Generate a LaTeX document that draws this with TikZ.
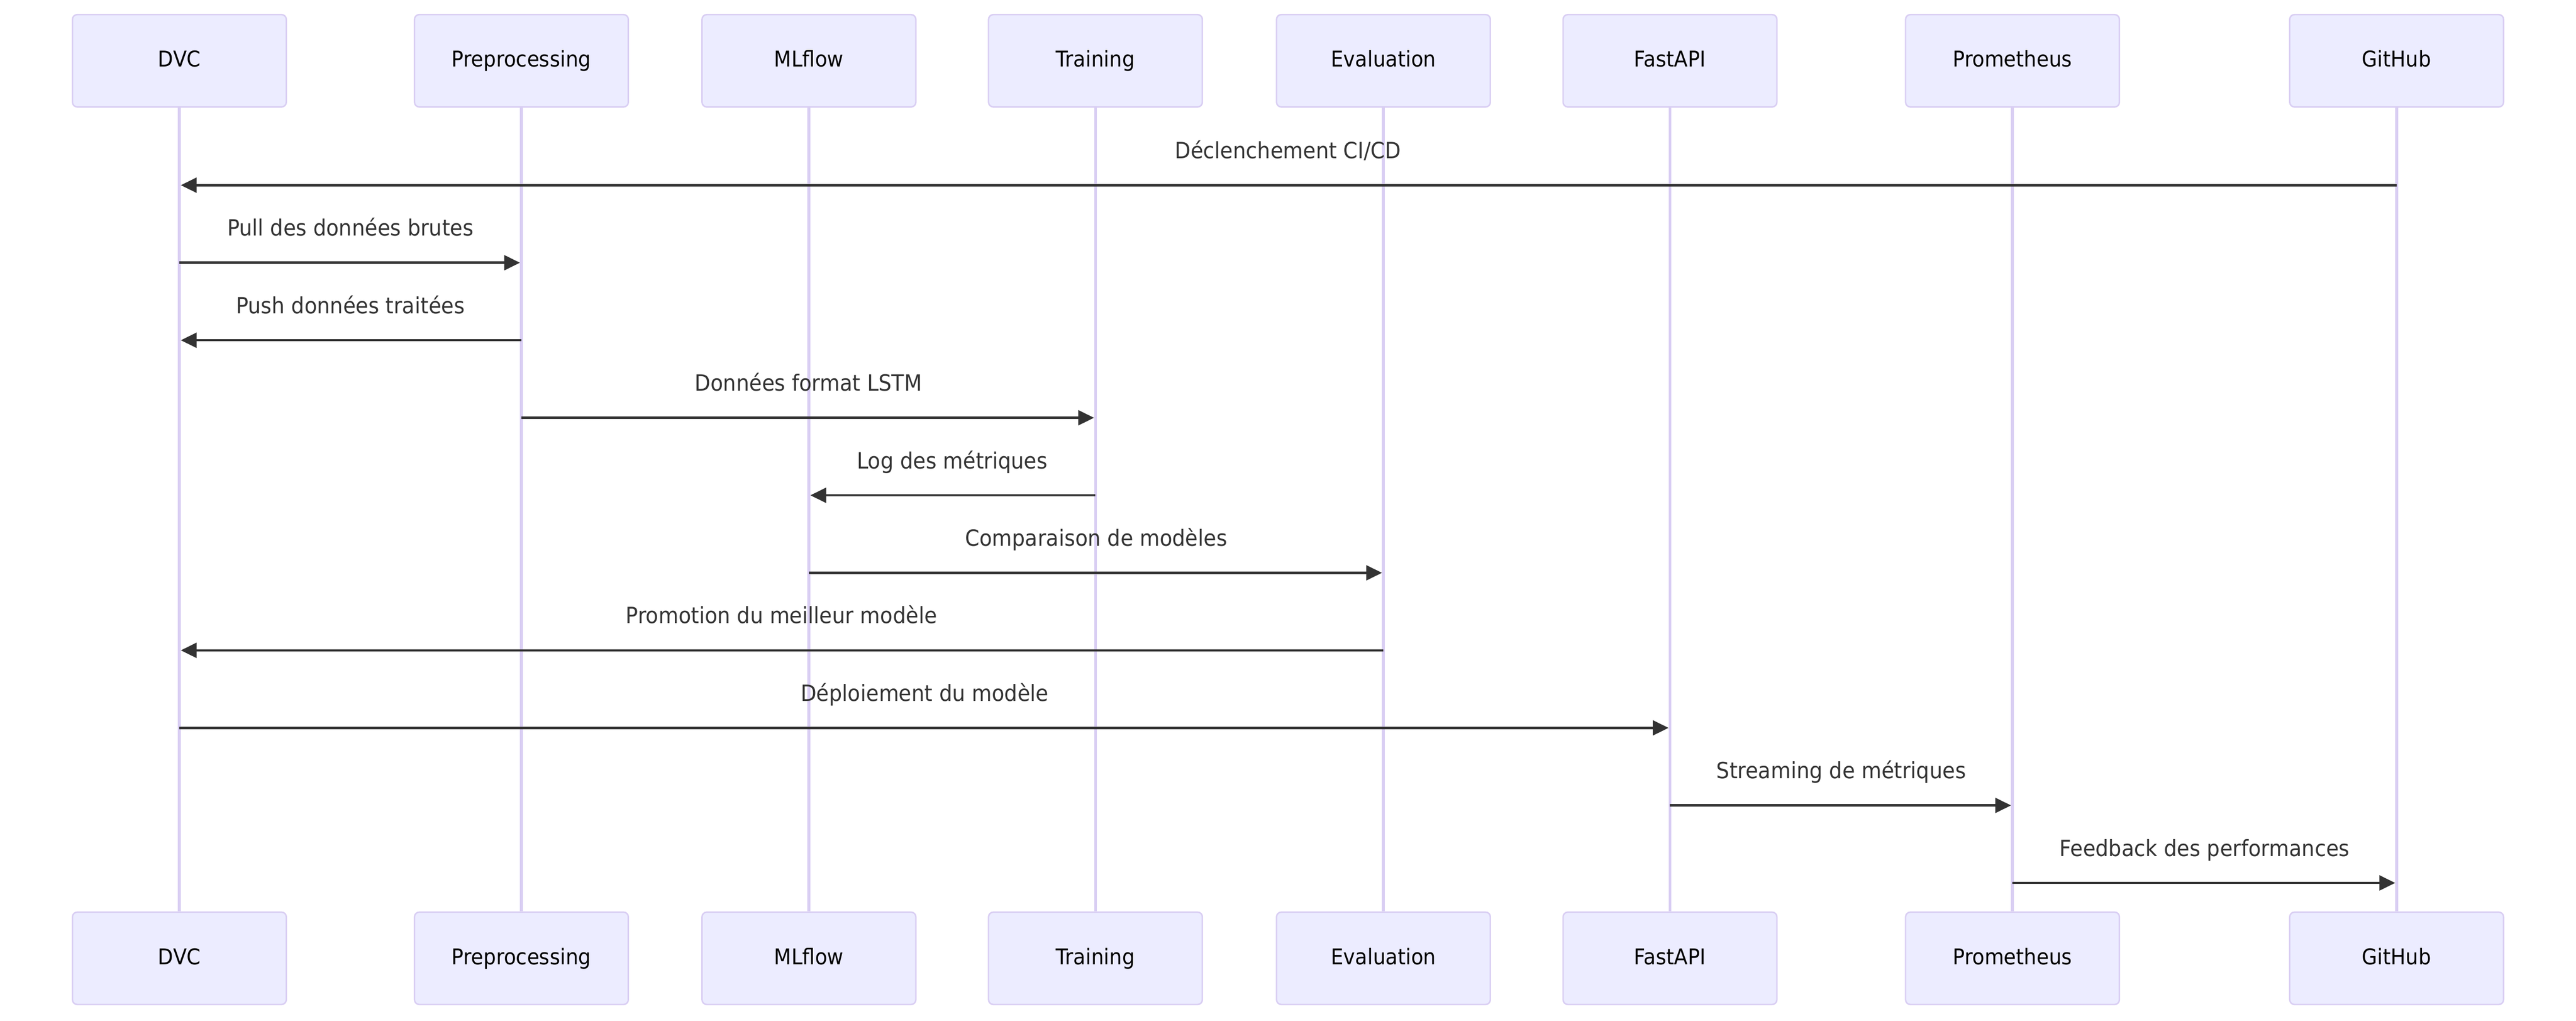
\documentclass[tikz,border=0pt]{standalone}
\usepackage{fontspec}
\setmainfont{DejaVu Sans}[FakeStretch=0.92]
\usetikzlibrary{positioning}
\usetikzlibrary{arrows.meta}
\definecolor{actfill}{HTML}{ECECFF}
\definecolor{actline}{HTML}{D9CEF3}
\definecolor{msgcol}{HTML}{333333}

\begin{document}
\begin{tikzpicture}[actor/.style={rectangle, rounded corners=0.1cm, draw=actline, fill=actfill, line width=0.85pt, minimum width=4.47cm, minimum height=1.93cm, align=center, text height=0.73em, text depth=0pt, font=\fontsize{12.9}{15}\selectfont}, lifeline/.style={draw=actline, line width=1.7pt}, msg/.style={draw=msgcol, line width=1.4pt, -{Triangle[length=0.33cm, width=0.31cm]}, shorten >=0.03cm}, lbl/.style={anchor=base, yshift=0.56cm, text=msgcol, font=\fontsize{13.3}{16}\selectfont}]
	\path[use as bounding box, fill=white] (0,0) rectangle (53.85,-21.33);

	% nodes
	\node[actor] (dvc) at (3.75,-1.27) {DVC}; %
	\node[actor, right of=dvc, xshift=6.15cm] (prep) {Preprocessing}; %
	\node[actor, right of=prep, xshift=5.01cm] (mlflow) {MLflow}; %
	\node[actor, right of=mlflow, xshift=4.99cm] (train) {Training}; %
	\node[actor, right of=train, xshift=5.02cm] (eval) {Evaluation}; %
	\node[actor, right of=eval, xshift=4.99cm] (api) {FastAPI}; %
	\node[actor, right of=api, xshift=6.16cm] (prom) {Prometheus}; %
	\node[actor, right of=prom, xshift=7.03cm] (git) {GitHub}; %

	\node[actor, below of=dvc, yshift=-17.755cm] (dvcb) {DVC}; %
	\node[actor, below of=prep, yshift=-17.755cm] (prepb) {Preprocessing}; %
	\node[actor, below of=mlflow, yshift=-17.755cm] (mlflowb) {MLflow}; %
	\node[actor, below of=train, yshift=-17.755cm] (trainb) {Training}; %
	\node[actor, below of=eval, yshift=-17.755cm] (evalb) {Evaluation}; %
	\node[actor, below of=api, yshift=-17.755cm] (apib) {FastAPI}; %
	\node[actor, below of=prom, yshift=-17.755cm] (promb) {Prometheus}; %
	\node[actor, below of=git, yshift=-17.755cm] (gitb) {GitHub}; %

	% lifelines
	\draw[lifeline] (dvc) -- (dvcb);
	\draw[lifeline] (prep) -- (prepb);
	\draw[lifeline] (mlflow) -- (mlflowb);
	\draw[lifeline] (train) -- (trainb);
	\draw[lifeline] (eval) -- (evalb);
	\draw[lifeline] (api) -- (apib);
	\draw[lifeline] (prom) -- (promb);
	\draw[lifeline] (git) -- (gitb);

	% message rows
	\coordinate (m1) at (0,-3.87);
	\coordinate (m2) at (0,-5.49);
	\coordinate (m3) at (0,-7.11);
	\coordinate (m4) at (0,-8.73);
	\coordinate (m5) at (0,-10.35);
	\coordinate (m6) at (0,-11.97);
	\coordinate (m7) at (0,-13.59);
	\coordinate (m8) at (0,-15.21);
	\coordinate (m9) at (0,-16.83);
	\coordinate (m10) at (0,-18.45);

	% edges
	\draw[msg] (git |- m1) -- (dvc |- m1) node[lbl, midway] {Déclenchement CI/CD};
	\draw[msg] (dvc |- m2) -- (prep |- m2) node[lbl, midway] {Pull des données brutes};
	\draw[msg] (prep |- m3) -- (dvc |- m3) node[lbl, midway] {Push données traitées};
	\draw[msg] (prep |- m4) -- (train |- m4) node[lbl, midway] {Données format LSTM};
	\draw[msg] (train |- m5) -- (mlflow |- m5) node[lbl, midway] {Log des métriques};
	\draw[msg] (mlflow |- m6) -- (eval |- m6) node[lbl, midway] {Comparaison de modèles};
	\draw[msg] (eval |- m7) -- (dvc |- m7) node[lbl, midway] {Promotion du meilleur modèle};
	\draw[msg] (dvc |- m8) -- (api |- m8) node[lbl, midway] {Déploiement du modèle};
	\draw[msg] (api |- m9) -- (prom |- m9) node[lbl, midway] {Streaming de métriques};
	\draw[msg] (prom |- m10) -- (git |- m10) node[lbl, midway] {Feedback des performances};
\end{tikzpicture}
\end{document}
